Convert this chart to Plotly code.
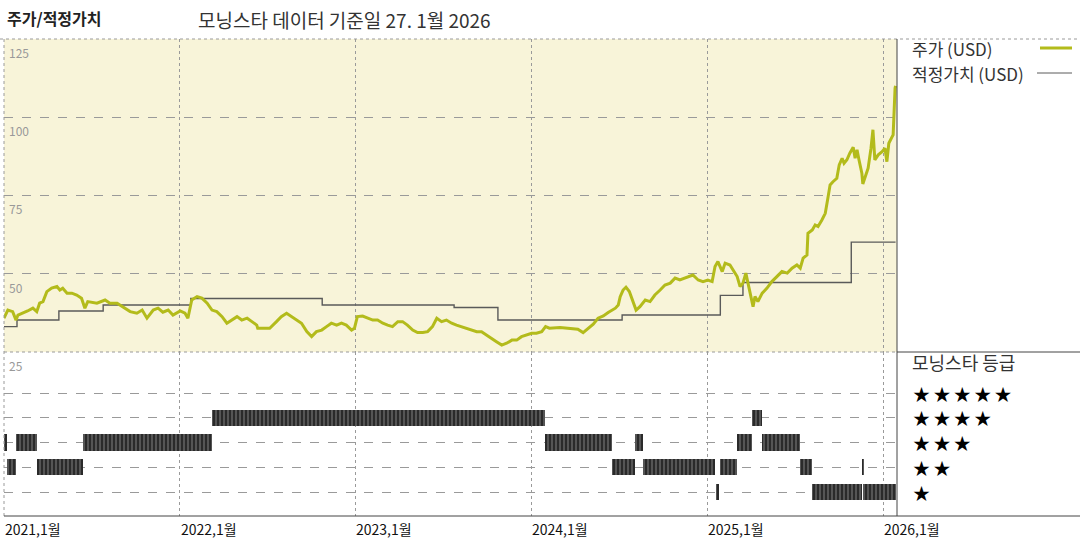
import plotly.graph_objects as go
import pandas as pd

# ---------------- data ----------------
price_dates = [
    "2021-01-01", "2021-01-09", "2021-01-19", "2021-01-26", "2021-01-30", "2021-02-09", "2021-02-19",
    "2021-03-02", "2021-03-10", "2021-03-16", "2021-03-23", "2021-03-31", "2021-04-10", "2021-04-21",
    "2021-04-27", "2021-05-03", "2021-05-12", "2021-05-22", "2021-06-01", "2021-06-11", "2021-06-18",
    "2021-06-24", "2021-07-13", "2021-07-30", "2021-08-09", "2021-08-24", "2021-09-05", "2021-09-20",
    "2021-10-04", "2021-10-15", "2021-10-25", "2021-11-07", "2021-11-17", "2021-11-27", "2021-12-08",
    "2021-12-18", "2022-01-02", "2022-01-12", "2022-01-18", "2022-01-26", "2022-02-06", "2022-02-16",
    "2022-02-27", "2022-03-09", "2022-03-19", "2022-03-30", "2022-04-09", "2022-04-20", "2022-04-30",
    "2022-05-10", "2022-05-21", "2022-05-31", "2022-06-10", "2022-06-12", "2022-06-26", "2022-07-07",
    "2022-07-21", "2022-07-31", "2022-08-11", "2022-08-21", "2022-09-01", "2022-09-11", "2022-09-22",
    "2022-10-02", "2022-10-12", "2022-10-23", "2022-11-02", "2022-11-12", "2022-11-23", "2022-12-03",
    "2022-12-13", "2022-12-24", "2022-12-30", "2023-01-05", "2023-01-16", "2023-01-26", "2023-02-06",
    "2023-02-16", "2023-02-27", "2023-03-09", "2023-03-19", "2023-03-30", "2023-04-09", "2023-04-19",
    "2023-04-30", "2023-05-10", "2023-05-21", "2023-05-31", "2023-06-10", "2023-06-19", "2023-06-29",
    "2023-07-09", "2023-07-20", "2023-07-30", "2023-08-10", "2023-08-20", "2023-08-30", "2023-09-10",
    "2023-09-20", "2023-09-30", "2023-10-11", "2023-10-21", "2023-11-01", "2023-11-11", "2023-11-22",
    "2023-12-02", "2023-12-12", "2023-12-23", "2024-01-02", "2024-01-12", "2024-01-23", "2024-01-31",
    "2024-02-08", "2024-03-01", "2024-03-22", "2024-04-07", "2024-04-18", "2024-04-28", "2024-05-09",
    "2024-05-19", "2024-05-30", "2024-06-09", "2024-06-17", "2024-06-24", "2024-06-30", "2024-07-04",
    "2024-07-10", "2024-07-16", "2024-07-23", "2024-07-31", "2024-08-06", "2024-08-14", "2024-08-25",
    "2024-09-04", "2024-09-14", "2024-09-25", "2024-10-05", "2024-10-16", "2024-10-26", "2024-11-05",
    "2024-11-16", "2024-11-26", "2024-12-02", "2024-12-13", "2024-12-23", "2025-01-02", "2025-01-11",
    "2025-01-17", "2025-01-23", "2025-02-01", "2025-02-07", "2025-02-17", "2025-02-26", "2025-03-04",
    "2025-03-10", "2025-03-16", "2025-03-22", "2025-03-28", "2025-04-06", "2025-04-10", "2025-04-16",
    "2025-04-25", "2025-05-05", "2025-05-15", "2025-05-26", "2025-06-05", "2025-06-16", "2025-06-26",
    "2025-07-06", "2025-07-13", "2025-07-19", "2025-07-27", "2025-07-29", "2025-08-07", "2025-08-13",
    "2025-08-19", "2025-08-27", "2025-09-03", "2025-09-09", "2025-09-13", "2025-09-19", "2025-09-27",
    "2025-10-02", "2025-10-08", "2025-10-12", "2025-10-18", "2025-10-24", "2025-10-31", "2025-11-04",
    "2025-11-08", "2025-11-12", "2025-11-18", "2025-11-20", "2025-11-27", "2025-12-01", "2025-12-07",
    "2025-12-11", "2025-12-15", "2025-12-22", "2025-12-30", "2026-01-05", "2026-01-09", "2026-01-13",
    "2026-01-20", "2026-01-22", "2026-01-26", "2026-01-27",
]
price_values = [
    35.8, 38.4, 37.9, 35.2, 36.8, 37.4, 38.1,
    39.0, 37.9, 40.6, 41.1, 44.3, 45.4, 45.9,
    44.8, 45.4, 43.8, 43.8, 43.2, 42.2, 39.0,
    41.1, 40.6, 41.6, 40.6, 40.6, 39.5, 37.9,
    37.4, 38.4, 35.8, 38.4, 39.0, 37.7, 38.4,
    36.8, 38.1, 37.4, 35.8, 41.6, 42.7, 42.2,
    40.6, 38.4, 37.9, 36.3, 34.2, 35.2, 36.3,
    35.2, 35.8, 34.7, 33.6, 32.6, 32.6, 32.6,
    34.7, 36.3, 37.4, 36.3, 35.2, 34.2, 31.5,
    29.9, 31.5, 32.0, 33.1, 34.2, 33.6, 34.2,
    33.6, 32.0, 32.6, 36.3, 36.5, 35.8, 35.2,
    35.2, 34.2, 33.6, 33.1, 34.7, 34.7, 33.6,
    32.0, 31.2, 31.2, 31.5, 33.1, 35.8, 34.7,
    35.2, 34.2, 33.6, 33.1, 32.6, 32.0, 31.5,
    31.5, 30.4, 29.4, 28.3, 27.2, 27.8, 28.8,
    28.8, 29.9, 30.4, 31.0, 31.0, 31.5, 33.1,
    32.6, 32.8, 32.6, 32.3, 31.2, 32.6, 33.9,
    35.8, 36.5, 37.6, 38.4, 39.0, 40.0, 42.7,
    44.8, 45.7, 44.3, 41.1, 38.4, 39.5, 41.6,
    41.1, 43.2, 44.8, 46.4, 47.0, 48.6, 48.0,
    48.6, 49.1, 49.6, 48.0, 47.5, 48.0, 47.5,
    52.3, 53.9, 50.7, 53.4, 52.8, 50.7, 49.1,
    45.9, 47.0, 50.2, 45.9, 39.5, 42.7, 41.1,
    43.8, 45.4, 47.5, 49.1, 50.7, 50.2, 51.8,
    52.8, 51.8, 55.0, 56.0, 62.9, 64.0, 65.6,
    65.1, 67.2, 69.3, 74.7, 78.4, 79.4, 80.5,
    84.8, 86.9, 85.3, 86.4, 88.5, 90.4, 86.9,
    89.6, 86.4, 82.1, 78.7, 82.1, 83.7, 90.1,
    96.0, 86.4, 88.0, 89.0, 90.1, 85.8, 91.7,
    93.8, 94.4, 109.3, 110.0,
]

fair_dates = [
    "2021-01-01", "2021-01-28", "2021-04-25", "2021-07-26", "2022-01-24", "2022-10-24",
    "2023-07-25", "2023-10-24", "2024-07-08", "2025-01-28", "2025-03-16", "2025-10-27", "2026-01-27",
]
fair_values = [33.1, 35.2, 38.1, 40.0, 42.1, 40.0, 39.2, 35.2, 36.8, 43.1, 47.2, 60.1, 60.1]

rating_start = [
    "2021-01-01", "2021-01-07", "2021-01-26", "2021-03-10", "2021-06-14", "2022-03-09",
    "2024-01-30", "2024-06-17", "2024-08-04", "2024-08-20", "2025-01-21", "2025-01-27",
    "2025-03-04", "2025-04-04", "2025-04-25", "2025-07-13", "2025-08-07", "2025-11-19",
    "2025-11-21",
]
rating_end = [
    "2021-01-07", "2021-01-26", "2021-03-10", "2021-06-14", "2022-03-09", "2024-01-30",
    "2024-06-17", "2024-08-04", "2024-08-20", "2025-01-17", "2025-01-25", "2025-03-04",
    "2025-04-04", "2025-04-25", "2025-07-13", "2025-08-07", "2025-11-19", "2025-11-21",
    "2026-01-27",
]
rating_stars = [3, 2, 3, 2, 3, 4, 3, 2, 3, 2, 1, 2, 3, 4, 3, 2, 1, 2, 1]

year_ticks = ["2021-01-01", "2022-01-01", "2023-01-01", "2024-01-01", "2025-01-01", "2026-01-01"]
year_labels = ["2021,1월", "2022,1월", "2023,1월", "2024,1월", "2025,1월", "2026,1월"]
price_ticks = [125, 100, 75, 50, 25]
star_levels = [5, 4, 3, 2, 1]

# ---------------- layout geometry ----------------
W, H = 1080, 540
X0, X1 = 4 / W, 897 / W
UY0, UY1 = 1 - 352 / H, 1 - 39 / H
LY0, LY1 = 1 - 516 / H, 1 - 352 / H
XRANGE = ["2021-01-01", "2026-01-30"]
FONT = "Noto Sans CJK KR"

PRICE_COLOR = "#B3BB1B"
FAIR_COLOR = "#5a5a5a"

fig = go.Figure()

fig.add_trace(go.Scatter(
    x=fair_dates, y=fair_values, mode="lines",
    line=dict(color=FAIR_COLOR, width=1.4, shape="hv"),
    xaxis="x", yaxis="y", showlegend=False, hoverinfo="skip",
))
fig.add_trace(go.Scatter(
    x=price_dates, y=price_values, mode="lines",
    line=dict(color=PRICE_COLOR, width=3),
    xaxis="x", yaxis="y", showlegend=False,
))

s = pd.to_datetime(rating_start)
e = pd.to_datetime(rating_end)
mid = s + (e - s) / 2
width_ms = [(b - a).total_seconds() * 1000 for a, b in zip(s, e)]
fig.add_trace(go.Bar(
    x=mid, y=[0.66] * len(rating_stars), base=[r - 0.33 for r in rating_stars],
    width=width_ms, xaxis="x2", yaxis="y2", showlegend=False,
    marker=dict(color="#3c3c3c", line=dict(width=0),
                pattern=dict(shape="|", fgcolor="#000000", bgcolor="#555555", size=4, solidity=0.5)),
))

grid = dict(showgrid=True, gridcolor="#9a9a9a", gridwidth=1, zeroline=False, showline=False,
            showticklabels=False, ticks="")
fig.update_layout(
    width=W, height=H,
    margin=dict(l=0, r=0, t=0, b=0),
    paper_bgcolor="white", plot_bgcolor="white",
    font=dict(family=FONT, color="#222"),
    bargap=0,
    xaxis=dict(domain=[X0, X1], range=XRANGE, type="date", tickvals=year_ticks,
               anchor="y", griddash="dot", **grid),
    xaxis2=dict(domain=[X0, X1], range=XRANGE, type="date", tickvals=year_ticks,
                anchor="y2", matches="x", griddash="dot", **grid),
    yaxis=dict(domain=[UY0, UY1], range=[25, 125], tickvals=[50, 75, 100, 125],
               anchor="x", griddash="dash", **grid),
    yaxis2=dict(domain=[LY0, LY1], range=[0.03, 6.66], tickvals=star_levels,
                anchor="x2", griddash="dash", **grid),
)

shapes = [
    dict(type="rect", xref="paper", yref="paper", x0=X0, x1=X1, y0=UY0, y1=UY1,
         fillcolor="#F8F4D9", line=dict(width=0), layer="below"),
    dict(type="line", xref="paper", yref="paper", x0=0, x1=1, y0=UY1, y1=UY1,
         line=dict(color="#9a9a9a", width=1, dash="dot")),
    dict(type="line", xref="paper", yref="paper", x0=X0, x1=X0, y0=LY0, y1=UY1,
         line=dict(color="#9a9a9a", width=1, dash="dot")),
    dict(type="line", xref="paper", yref="paper", x0=X1, x1=X1, y0=LY0, y1=UY1,
         line=dict(color="#444", width=1)),
    dict(type="line", xref="paper", yref="paper", x0=X0, x1=X1, y0=UY0, y1=UY0,
         line=dict(color="#9a9a9a", width=1, dash="dot")),
    dict(type="line", xref="paper", yref="paper", x0=X1, x1=1, y0=UY0, y1=UY0,
         line=dict(color="#444", width=1)),
    dict(type="line", xref="paper", yref="paper", x0=X0, x1=1, y0=LY0, y1=LY0,
         line=dict(color="#444", width=1)),
    # legend samples
    dict(type="line", xref="paper", yref="paper", x0=1040 / W, x1=1072 / W, y0=1 - 48 / H, y1=1 - 48 / H,
         line=dict(color=PRICE_COLOR, width=3)),
    dict(type="line", xref="paper", yref="paper", x0=1037 / W, x1=1072 / W, y0=1 - 73 / H, y1=1 - 73 / H,
         line=dict(color=FAIR_COLOR, width=1)),
]

ann = [
    dict(text="<b>주가/적정가치</b>", x=5 / W, y=1 - 18 / H, xref="paper", yref="paper",
         xanchor="left", yanchor="middle", showarrow=False, font=dict(size=16, color="#222")),
    dict(text="모닝스타 데이터 기준일 27. 1월 2026", x=196 / W, y=1 - 20 / H, xref="paper", yref="paper",
         xanchor="left", yanchor="middle", showarrow=False, font=dict(size=19, color="#333")),
    dict(text="주가 (USD)", x=910 / W, y=1 - 48 / H, xref="paper", yref="paper",
         xanchor="left", yanchor="middle", showarrow=False, font=dict(size=17, color="#333")),
    dict(text="적정가치 (USD)", x=910 / W, y=1 - 73 / H, xref="paper", yref="paper",
         xanchor="left", yanchor="middle", showarrow=False, font=dict(size=17, color="#333")),
    dict(text="모닝스타 등급", x=910 / W, y=1 - 362 / H, xref="paper", yref="paper",
         xanchor="left", yanchor="middle", showarrow=False, font=dict(size=18, color="#333")),
]
for v in price_ticks:
    ann.append(dict(text=str(v), x=7 / W, y=v, xref="paper", yref="y", xanchor="left", yanchor="top",
                    yshift=-3, showarrow=False, font=dict(size=12, color="#999")))
for sv in star_levels:
    ann.append(dict(text="\u2009".join(["★"] * sv), x=911 / W, y=sv, xref="paper", yref="y2",
                    xanchor="left", yanchor="middle", showarrow=False,
                    font=dict(size=17, color="black")))
for d, lab in zip(year_ticks, year_labels):
    ann.append(dict(text=lab, x=d, y=LY0, xref="x2", yref="paper", xanchor="left", yanchor="top",
                    yshift=-1, xshift=-1, showarrow=False, font=dict(size=14, color="#111")))

fig.update_layout(shapes=shapes, annotations=ann)
fig.write_html("out.html", config={"displayModeBar": False},
               post_script="document.body.style.margin='0';document.body.style.padding='0';")
